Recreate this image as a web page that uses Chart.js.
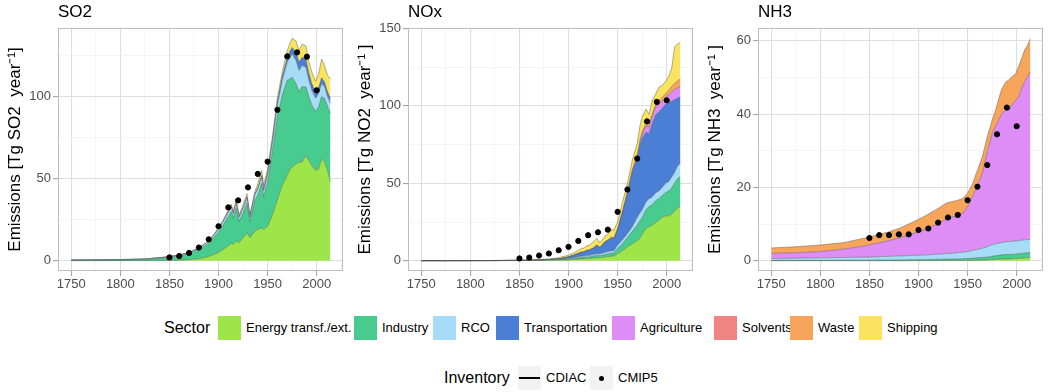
<!DOCTYPE html>
<html>
<head>
<meta charset="utf-8">
<script src="https://cdn.jsdelivr.net/npm/chart.js@4.4.1/dist/chart.umd.min.js"></script>
<style>
  body { margin: 0; background: #fff; font-family: "Liberation Sans", Arial, Helvetica, sans-serif; }
  #wrap { position: relative; width: 1050px; height: 392px; overflow: hidden; background: #fff; }
  .panel { position: absolute; top: 0; width: 350px; height: 300px; }
  .txt { position: absolute; height: 24px; line-height: 24px; white-space: nowrap; color: #000; }
  .key { position: absolute; width: 23px; height: 24px; }
</style>
</head>
<body>
<div id="wrap">
  <div class="panel" style="left:0"><canvas id="so2" width="350" height="300"></canvas></div>
  <div class="panel" style="left:350px"><canvas id="nox" width="350" height="300"></canvas></div>
  <div class="panel" style="left:700px"><canvas id="nh3" width="350" height="300"></canvas></div>
  <div id="legend"></div>
</div>
<script>
// years shared by all sector series
const years = [1750, 1775, 1800, 1825, 1850, 1860, 1870, 1880, 1890, 1900, 1905, 1910, 1913, 1915, 1918, 1921, 1925, 1929,
  1932, 1937, 1940, 1944, 1946, 1950, 1955, 1960, 1965, 1970, 1973, 1975, 1979, 1982, 1985, 1989, 1992, 1995, 1999,
  2002, 2005, 2008, 2011, 2014];
const cmipYears = [1850, 1860, 1870, 1880, 1890, 1900, 1910, 1920, 1930, 1940, 1950, 1960, 1970, 1980, 1990, 2000];

const sectorNames = ['Energy transf./ext.', 'Industry', 'RCO', 'Transportation', 'Agriculture', 'Solvents', 'Waste', 'Shipping'];
const sectorColors = ['#9de549', '#48cb8e', '#a7dcf6', '#4b7fd5', '#df8df6', '#f28584', '#f8a55c', '#f9e35f'];

const xTickLabels = [1750, 1800, 1850, 1900, 1950, 2000];
const xMinorTicks = [1775, 1825, 1875, 1925, 1975, 2025];

// SO2 (Tg SO2/yr)
const so2Energy = [0, 0, 0, 0, 0.1, 0.3, 0.6, 1.2, 2.5, 5, 7, 9, 10.5, 10, 12, 11, 14, 17, 14, 18, 19, 20, 19, 21, 28, 37, 46, 52,
  56, 57, 59, 60, 60, 64, 61, 58, 55, 56, 62, 60, 55, 48];
const so2Industry = [0.3, 0.4, 0.5, 0.8, 1.9, 2.7, 3.7, 5.8, 8, 12.5, 15, 18, 19.5, 16, 20, 13, 15, 18, 10, 19, 21, 27, 20, 27, 39,
  51, 55, 58, 55, 55, 49, 43, 46, 42, 39, 37, 36, 38, 38, 39, 39, 42];
const so2RCO = [0.1, 0.1, 0.2, 0.2, 0.4, 0.5, 0.6, 0.8, 1.2, 1.8, 2.2, 2.6, 2.8, 2.5, 3, 2.5, 2.8, 3.2, 2.6, 3.2, 3.5, 4, 3.7, 4.5,
  5.5, 7, 9, 11, 13, 14, 14, 13, 13, 12, 10, 9, 8, 8, 8, 7, 6, 6];
const so2Transport = [0, 0, 0, 0, 0, 0, 0, 0, 0, 0.2, 0.3, 0.4, 0.5, 0.5, 0.5, 0.5, 0.6, 0.7, 0.6, 0.8, 0.9, 1, 1, 1.2, 1.5, 2, 2.5,
  3, 4, 4, 5, 5, 5, 5, 4.5, 4, 3.5, 3.5, 3.5, 3, 3, 3];
const so2Shipping = [0, 0, 0, 0, 0.1, 0.1, 0.1, 0.2, 0.3, 0.5, 0.5, 1, 1.2, 1, 1.5, 1, 1.6, 2, 0.8, 1.2, 2.5, 3, 2.3, 2.3, 2, 2.5,
  3, 4, 5, 5.5, 7, 7, 8, 8, 7, 7, 7, 8.5, 11.5, 10, 10, 12];
const so2Cmip = [2, 2.8, 4.7, 8, 13, 21, 32.5, 36.8, 44.7, 52.9, 60.4, 92, 124.6, 127, 124.4, 103.9];
const so2TickLabels = [0, 50, 100];
const so2MinorTicks = [25, 75, 125];

// NOx (Tg NO2/yr)
const noxEnergy = [0, 0, 0, 0.05, 0.1, 0.15, 0.2, 0.3, 0.4, 0.6, 0.8, 1, 1.2, 1.2, 1.4, 1.4, 1.7, 2, 1.9, 2.4, 2.7, 3, 3, 4.5,
  6.5, 9, 11, 13, 15, 17, 21, 22, 23, 25, 26, 28, 29, 29, 30, 32, 34, 35];
const noxIndustry = [0.05, 0.05, 0.08, 0.05, 0.1, 0.15, 0.2, 0.3, 0.4, 0.5, 0.7, 0.9, 1, 0.9, 1.1, 1, 1.3, 1.5, 1.3, 1.6, 1.6, 2,
  1.8, 3.5, 4.5, 6, 8, 10, 11, 11, 12, 13, 13, 14, 14, 14, 15, 16, 17, 18, 19, 19.5];
const noxRCO = [0.05, 0.05, 0.04, 0.05, 0.1, 0.1, 0.1, 0.2, 0.3, 0.4, 0.5, 0.7, 0.8, 0.8, 0.9, 1, 1, 1.1, 1.2, 1.3, 1.5, 1.5, 1.5,
  2, 2.5, 2.5, 3, 5, 5, 5, 5, 5, 5, 5, 5, 5, 6, 6, 7, 7, 8, 8.5];
const noxTransport = [0, 0, 0, 0, 0, 0, 0, 0, 0.1, 1, 1.5, 2.1, 2.5, 2.6, 3.1, 3.4, 4, 5.4, 4.1, 6.7, 7.2, 8.5, 7.7, 10, 17.5, 25.5,
  35, 38, 44, 46, 45, 42, 47, 50.5, 51, 51, 51, 51, 49, 47, 44, 43];
const noxAgri = [0, 0, 0, 0, 0, 0, 0, 0, 0, 0, 0, 0, 0, 0, 0, 0, 0, 0, 0, 0, 0.1, 0.1, 0.1, 0.2, 0.3, 0.5, 0.8, 1.2, 1.8, 2.5, 4,
  4.5, 4.5, 5, 5, 5, 4.5, 5, 6, 6.5, 6.5, 6.5];
const noxWaste = [0, 0, 0, 0, 0, 0, 0, 0, 0.05, 0.1, 0.1, 0.1, 0.1, 0.1, 0.1, 0.2, 0.2, 0.2, 0.2, 0.3, 0.3, 0.3, 0.3, 0.5, 0.7, 1,
  1.2, 1.5, 1.7, 1.8, 2, 2, 2, 2, 2.2, 2.3, 2.5, 3, 3.5, 4, 4.5, 5];
const noxShipping = [0, 0, 0.03, 0.05, 0.1, 0.1, 0.3, 0.4, 0.75, 1, 1.4, 2, 2.4, 2.4, 2.9, 3, 3.8, 4.3, 2.8, 3.7, 3.6, 5.1, 5.1,
  4.3, 6, 5.5, 6, 7.3, 9.5, 9.7, 9, 6, 8.5, 6.5, 8.8, 7.7, 8, 9, 11.5, 23.5, 24, 23.5];
const noxCmip = [1.5, 2.1, 3.4, 4.7, 6.8, 9, 12.8, 16.5, 18.4, 20.1, 31.6, 46, 66, 90, 102.6, 103.6];
const noxTickLabels = [0, 50, 100, 150];
const noxMinorTicks = [25, 75, 125];

// NH3 (Tg NH3/yr)
const nh3Energy = [0, 0, 0, 0, 0, 0, 0, 0, 0, 0.02, 0.02, 0.03, 0.03, 0.03, 0.03, 0.04, 0.04, 0.05, 0.05, 0.05, 0.05, 0.05, 0.06,
  0.07, 0.1, 0.12, 0.15, 0.2, 0.25, 0.3, 0.35, 0.4, 0.45, 0.5, 0.5, 0.55, 0.6, 0.65, 0.7, 0.8, 0.85, 0.9];
const nh3Industry = [0.1, 0.1, 0.1, 0.15, 0.15, 0.2, 0.2, 0.2, 0.25, 0.28, 0.28, 0.32, 0.32, 0.32, 0.37, 0.36, 0.36, 0.4, 0.4,
  0.45, 0.45, 0.45, 0.49, 0.53, 0.6, 0.68, 0.75, 0.8, 0.85, 0.9, 1.05, 1.1, 1.15, 1.2, 1.2, 1.25, 1.2, 1.25, 1.3, 1.3, 1.35, 1.3];
const nh3RCO = [0.5, 0.6, 0.7, 0.75, 0.85, 0.9, 1, 1.1, 1.15, 1.2, 1.25, 1.25, 1.3, 1.35, 1.35, 1.4, 1.5, 1.55, 1.55, 1.6, 1.7,
  1.8, 1.85, 1.9, 2.1, 2.3, 2.5, 2.8, 3.1, 3.2, 3.3, 3.3, 3.4, 3.5, 3.5, 3.5, 3.6, 3.6, 3.6, 3.6, 3.6, 3.6];
const nh3Agri = [1.4, 1.5, 1.7, 2.3, 3.3, 3.8, 4.3, 4.9, 5.6, 6.4, 6.75, 7.2, 7.65, 7.8, 8.15, 8.5, 9, 9.3, 9.6, 10.1, 10.3, 10.6,
  10.8, 12.2, 14.7, 17.5, 20.4, 25.9, 28.3, 30.3, 32.3, 33.7, 35.2, 35.9, 35.9, 37.2, 38.4, 39.2, 41.4, 43.1, 44.4, 45.7];
const nh3Waste = [1.5, 1.6, 1.8, 1.8, 2.2, 2.3, 2.4, 2.6, 3, 3.4, 3.7, 3.9, 3.9, 4, 4.1, 4.1, 4.3, 4.5, 4.4, 4.1, 4, 4, 4, 3.7,
  3.5, 4.1, 4.6, 4.1, 4, 3.7, 4.5, 6, 6.8, 7.7, 8.2, 7.7, 7.2, 8.3, 8.2, 8.7, 8.6, 9.1];
const nh3Cmip = [6.2, 7, 7, 7.2, 7.2, 8.4, 8.8, 10.4, 11.8, 12.5, 16.5, 20.2, 26.1, 34.5, 41.8, 36.7];
const nh3TickLabels = [0, 20, 40, 60];
const nh3MinorTicks = [10, 30, 50];

const FONT = '"Liberation Sans", Arial, Helvetica, sans-serif';
Chart.defaults.font.family = FONT;

const MAJOR = '#dedede';
const MINOR = '#f0f0f0';

// panel title at the left edge of the plot area
const panelTitle = {
  id: 'panelTitle',
  afterDraw(chart, args, opts) {
    const ctx = chart.ctx;
    ctx.save();
    ctx.font = '17px ' + FONT;
    ctx.fillStyle = '#000';
    ctx.textBaseline = 'middle';
    ctx.fillText(opts.text, chart.chartArea.left, 12);
    ctx.restore();
  }
};

// grey frame round the plot area, like theme_light
const panelBorder = {
  id: 'panelBorder',
  afterDraw(chart) {
    const { left, top, width, height } = chart.chartArea;
    const ctx = chart.ctx;
    ctx.save();
    ctx.strokeStyle = '#bdbdbd';
    ctx.lineWidth = 1;
    ctx.strokeRect(Math.round(left) + 0.5, Math.round(top) + 0.5, Math.round(width) - 1, Math.round(height) - 1);
    ctx.restore();
  }
};

function gridFor(labels) {
  const isMajor = c => c.tick && labels.includes(c.tick.value);
  return {
    color: c => isMajor(c) ? MAJOR : MINOR,
    lineWidth: c => isMajor(c) ? 1.1 : 0.7,
    tickLength: 5,
    tickColor: c => isMajor(c) ? '#a6a6a6' : 'rgba(0,0,0,0)'
  };
}

function buildChart(id, title, yTitle, layers, cmip, yMin, yMax, yLabels, yMinor) {
  const datasets = layers.map(([k, vals], i) => ({
    type: 'line',
    label: sectorNames[k],
    data: years.map((yr, j) => ({ x: yr, y: vals[j] })),
    backgroundColor: sectorColors[k],
    borderColor: 'rgba(70,70,70,0.6)',
    borderWidth: 0.7,
    pointRadius: 0,
    tension: 0,
    fill: i === 0 ? 'origin' : '-1',
    stack: 'sector',
    order: 1
  }));
  datasets.push({
    type: 'scatter',
    label: 'CMIP5',
    data: cmipYears.map((yr, j) => ({ x: yr, y: cmip[j] })),
    backgroundColor: '#000',
    borderColor: '#000',
    pointRadius: 2.6,
    stack: 'cmip',
    order: 0
  });

  new Chart(document.getElementById(id), {
    type: 'line',
    data: { datasets },
    plugins: [panelTitle, panelBorder],
    options: {
      responsive: false,
      animation: false,
      layout: { padding: { top: 28, right: 7, left: 0, bottom: 0 } },
      plugins: {
        legend: { display: false },
        tooltip: { enabled: false },
        panelTitle: { text: title }
      },
      scales: {
        x: {
          type: 'linear',
          min: 1736.5,
          max: 2026.8,
          afterBuildTicks: s => { s.ticks = xTickLabels.concat(xMinorTicks).sort((a, b) => a - b).map(v => ({ value: v })); },
          afterFit: s => { s.height = 29; },
          border: { display: false },
          grid: gridFor(xTickLabels),
          ticks: {
            autoSkip: false, maxRotation: 0, padding: 1, color: '#4d4d4d', font: { size: 13 },
            callback: v => xTickLabels.includes(v) ? String(v) : ''
          }
        },
        y: {
          stacked: true,
          min: yMin,
          max: yMax,
          afterBuildTicks: s => { s.ticks = yLabels.concat(yMinor).sort((a, b) => a - b).map(v => ({ value: v })); },
          afterFit: s => { s.width = 58; },
          border: { display: false },
          grid: gridFor(yLabels),
          ticks: {
            autoSkip: false, padding: 2, color: '#4d4d4d', font: { size: 13 },
            callback: v => yLabels.includes(v) ? String(v) : ''
          },
          title: { display: true, text: yTitle, color: '#000', font: { size: 17 }, padding: { top: 5, bottom: 0 } }
        }
      }
    }
  });
}

buildChart('so2', 'SO2', 'Emissions [Tg SO2  year\u207B\u00B9]',
  [[0, so2Energy], [1, so2Industry], [2, so2RCO], [3, so2Transport], [7, so2Shipping]],
  so2Cmip, -6.3, 141.9, so2TickLabels, so2MinorTicks);

buildChart('nox', 'NOx', 'Emissions [Tg NO2  year\u207B\u00B9 ]',
  [[0, noxEnergy], [1, noxIndustry], [2, noxRCO], [3, noxTransport], [4, noxAgri], [6, noxWaste], [7, noxShipping]],
  noxCmip, -6.6, 150.3, noxTickLabels, noxMinorTicks);

buildChart('nh3', 'NH3', 'Emissions [Tg NH3  year\u207B\u00B9 ]',
  [[0, nh3Energy], [1, nh3Industry], [2, nh3RCO], [4, nh3Agri], [6, nh3Waste]],
  nh3Cmip, -2.8, 63.5, nh3TickLabels, nh3MinorTicks);

// legend (HTML, laid out like the ggplot guide)
const sectorKeyLeft = [218, 354, 433, 496, 612, 714, 790, 859];
const legend = document.getElementById('legend');
let html = '<div class="txt" style="left:164px;top:316px;font-size:16px">Sector</div>';
sectorNames.forEach((name, i) => {
  const x = sectorKeyLeft[i];
  html += `<div class="key" style="left:${x}px;top:316px;background:${sectorColors[i]}"></div>`;
  html += `<div class="txt" style="left:${x + 28}px;top:316px;font-size:13px">${name}</div>`;
});
html += '<div class="txt" style="left:444px;top:366px;font-size:16px">Inventory</div>';
html += '<div class="key" style="left:518px;top:366px;background:#f2f2f2"><div style="position:absolute;left:1px;right:1px;top:11px;height:1.6px;background:#000"></div></div>';
html += '<div class="txt" style="left:546px;top:366px;font-size:13px">CDIAC</div>';
html += '<div class="key" style="left:590px;top:366px;background:#f2f2f2"><div style="position:absolute;left:9px;top:10px;width:5px;height:5px;border-radius:50%;background:#000"></div></div>';
html += '<div class="txt" style="left:618px;top:366px;font-size:13px">CMIP5</div>';
legend.innerHTML = html;
</script>
</body>
</html>
